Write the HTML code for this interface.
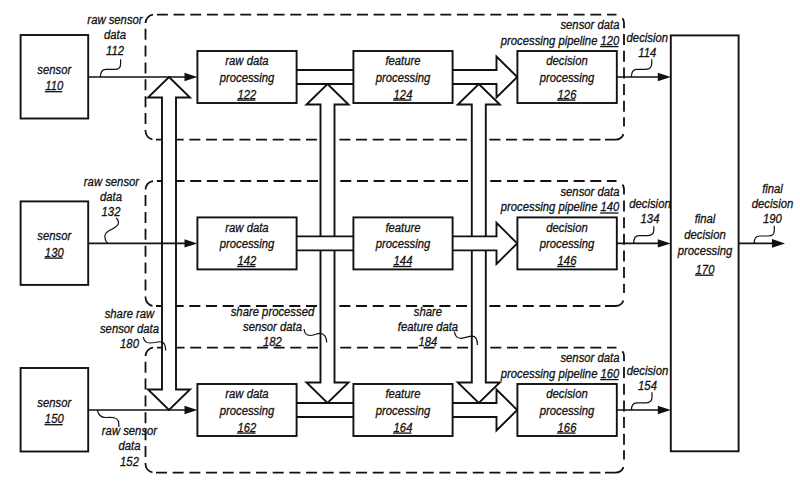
<!DOCTYPE html>
<html><head><meta charset="utf-8"><style>
html,body{margin:0;padding:0;background:#fff;}
svg{display:block;}
</style></head><body>
<svg width="800" height="486" viewBox="0 0 800 486">
<rect width="800" height="486" fill="#fff"/>
<path d="M156.90,14.6 L167.90,14.6 M173.57,14.6 L184.57,14.6 M190.24,14.6 L201.24,14.6 M206.91,14.6 L217.91,14.6 M223.58,14.6 L234.58,14.6 M240.25,14.6 L251.25,14.6 M256.92,14.6 L267.92,14.6 M273.59,14.6 L284.59,14.6 M290.26,14.6 L301.26,14.6 M306.93,14.6 L317.93,14.6 M323.60,14.6 L334.60,14.6 M340.27,14.6 L351.27,14.6 M356.94,14.6 L367.94,14.6 M373.61,14.6 L384.61,14.6 M390.28,14.6 L401.28,14.6 M406.95,14.6 L417.95,14.6 M423.62,14.6 L434.62,14.6 M440.29,14.6 L451.29,14.6 M456.96,14.6 L467.96,14.6 M473.63,14.6 L484.63,14.6 M490.30,14.6 L501.30,14.6 M506.97,14.6 L517.97,14.6 M523.64,14.6 L534.64,14.6 M540.31,14.6 L551.31,14.6 M556.98,14.6 L567.98,14.6 M573.65,14.6 L584.65,14.6 M590.32,14.6 L601.32,14.6 M606.99,14.6 L616.50,14.6 M156.00,139.6 L167.00,139.6 M172.67,139.6 L183.67,139.6 M189.34,139.6 L200.34,139.6 M206.01,139.6 L217.01,139.6 M222.68,139.6 L233.68,139.6 M239.35,139.6 L250.35,139.6 M256.02,139.6 L267.02,139.6 M272.69,139.6 L283.69,139.6 M289.36,139.6 L300.36,139.6 M306.03,139.6 L317.03,139.6 M322.70,139.6 L333.70,139.6 M339.37,139.6 L350.37,139.6 M356.04,139.6 L367.04,139.6 M372.71,139.6 L383.71,139.6 M389.38,139.6 L400.38,139.6 M406.05,139.6 L417.05,139.6 M422.72,139.6 L433.72,139.6 M439.39,139.6 L450.39,139.6 M456.06,139.6 L467.06,139.6 M472.73,139.6 L483.73,139.6 M489.40,139.6 L500.40,139.6 M506.07,139.6 L517.07,139.6 M522.74,139.6 L533.74,139.6 M539.41,139.6 L550.41,139.6 M556.08,139.6 L567.08,139.6 M572.75,139.6 L583.75,139.6 M589.42,139.6 L600.42,139.6 M145.5,28.70 L145.5,39.70 M145.5,45.56 L145.5,56.56 M145.5,62.42 L145.5,73.42 M145.5,79.28 L145.5,90.28 M145.5,96.14 L145.5,107.14 M145.5,113.00 L145.5,124.00 M624.0,34.10 L624.0,45.10 M624.0,50.75 L624.0,61.75 M624.0,67.40 L624.0,78.40 M624.0,84.05 L624.0,95.05 M624.0,100.70 L624.0,111.70 M624.0,117.35 L624.0,126.60 M145.5,23.1 A8.5,8.5 0 0 1 153.0,14.7 M145.5,130.1 L145.5,131.1 A8.5,8.5 0 0 0 152.5,139.4 M622.46,18.22 A8.5,8.5 0 0 1 624.0,23.1 L624.0,28.2 M605.0,139.6 L615.5,139.6 A8.5,8.5 0 0 0 623.5,134.1" fill="none" stroke="#111" stroke-width="1.8"/>
<path d="M156.90,181.0 L167.90,181.0 M173.57,181.0 L184.57,181.0 M190.24,181.0 L201.24,181.0 M206.91,181.0 L217.91,181.0 M223.58,181.0 L234.58,181.0 M240.25,181.0 L251.25,181.0 M256.92,181.0 L267.92,181.0 M273.59,181.0 L284.59,181.0 M290.26,181.0 L301.26,181.0 M306.93,181.0 L317.93,181.0 M323.60,181.0 L334.60,181.0 M340.27,181.0 L351.27,181.0 M356.94,181.0 L367.94,181.0 M373.61,181.0 L384.61,181.0 M390.28,181.0 L401.28,181.0 M406.95,181.0 L417.95,181.0 M423.62,181.0 L434.62,181.0 M440.29,181.0 L451.29,181.0 M456.96,181.0 L467.96,181.0 M473.63,181.0 L484.63,181.0 M490.30,181.0 L501.30,181.0 M506.97,181.0 L517.97,181.0 M523.64,181.0 L534.64,181.0 M540.31,181.0 L551.31,181.0 M556.98,181.0 L567.98,181.0 M573.65,181.0 L584.65,181.0 M590.32,181.0 L601.32,181.0 M606.99,181.0 L616.50,181.0 M156.00,306.0 L167.00,306.0 M172.67,306.0 L183.67,306.0 M189.34,306.0 L200.34,306.0 M206.01,306.0 L217.01,306.0 M222.68,306.0 L233.68,306.0 M239.35,306.0 L250.35,306.0 M256.02,306.0 L267.02,306.0 M272.69,306.0 L283.69,306.0 M289.36,306.0 L300.36,306.0 M306.03,306.0 L317.03,306.0 M322.70,306.0 L333.70,306.0 M339.37,306.0 L350.37,306.0 M356.04,306.0 L367.04,306.0 M372.71,306.0 L383.71,306.0 M389.38,306.0 L400.38,306.0 M406.05,306.0 L417.05,306.0 M422.72,306.0 L433.72,306.0 M439.39,306.0 L450.39,306.0 M456.06,306.0 L467.06,306.0 M472.73,306.0 L483.73,306.0 M489.40,306.0 L500.40,306.0 M506.07,306.0 L517.07,306.0 M522.74,306.0 L533.74,306.0 M539.41,306.0 L550.41,306.0 M556.08,306.0 L567.08,306.0 M572.75,306.0 L583.75,306.0 M589.42,306.0 L600.42,306.0 M145.5,195.10 L145.5,206.10 M145.5,211.96 L145.5,222.96 M145.5,228.82 L145.5,239.82 M145.5,245.68 L145.5,256.68 M145.5,262.54 L145.5,273.54 M145.5,279.40 L145.5,290.40 M624.0,200.50 L624.0,211.50 M624.0,217.15 L624.0,228.15 M624.0,233.80 L624.0,244.80 M624.0,250.45 L624.0,261.45 M624.0,267.10 L624.0,278.10 M624.0,283.75 L624.0,293.00 M145.5,189.5 A8.5,8.5 0 0 1 153.0,181.1 M145.5,296.5 L145.5,297.5 A8.5,8.5 0 0 0 152.5,305.8 M622.46,184.62 A8.5,8.5 0 0 1 624.0,189.5 L624.0,194.6 M605.0,306.0 L615.5,306.0 A8.5,8.5 0 0 0 623.5,300.5" fill="none" stroke="#111" stroke-width="1.8"/>
<path d="M156.90,347.6 L167.90,347.6 M173.57,347.6 L184.57,347.6 M190.24,347.6 L201.24,347.6 M206.91,347.6 L217.91,347.6 M223.58,347.6 L234.58,347.6 M240.25,347.6 L251.25,347.6 M256.92,347.6 L267.92,347.6 M273.59,347.6 L284.59,347.6 M290.26,347.6 L301.26,347.6 M306.93,347.6 L317.93,347.6 M323.60,347.6 L334.60,347.6 M340.27,347.6 L351.27,347.6 M356.94,347.6 L367.94,347.6 M373.61,347.6 L384.61,347.6 M390.28,347.6 L401.28,347.6 M406.95,347.6 L417.95,347.6 M423.62,347.6 L434.62,347.6 M440.29,347.6 L451.29,347.6 M456.96,347.6 L467.96,347.6 M473.63,347.6 L484.63,347.6 M490.30,347.6 L501.30,347.6 M506.97,347.6 L517.97,347.6 M523.64,347.6 L534.64,347.6 M540.31,347.6 L551.31,347.6 M556.98,347.6 L567.98,347.6 M573.65,347.6 L584.65,347.6 M590.32,347.6 L601.32,347.6 M606.99,347.6 L616.50,347.6 M156.00,472.6 L167.00,472.6 M172.67,472.6 L183.67,472.6 M189.34,472.6 L200.34,472.6 M206.01,472.6 L217.01,472.6 M222.68,472.6 L233.68,472.6 M239.35,472.6 L250.35,472.6 M256.02,472.6 L267.02,472.6 M272.69,472.6 L283.69,472.6 M289.36,472.6 L300.36,472.6 M306.03,472.6 L317.03,472.6 M322.70,472.6 L333.70,472.6 M339.37,472.6 L350.37,472.6 M356.04,472.6 L367.04,472.6 M372.71,472.6 L383.71,472.6 M389.38,472.6 L400.38,472.6 M406.05,472.6 L417.05,472.6 M422.72,472.6 L433.72,472.6 M439.39,472.6 L450.39,472.6 M456.06,472.6 L467.06,472.6 M472.73,472.6 L483.73,472.6 M489.40,472.6 L500.40,472.6 M506.07,472.6 L517.07,472.6 M522.74,472.6 L533.74,472.6 M539.41,472.6 L550.41,472.6 M556.08,472.6 L567.08,472.6 M572.75,472.6 L583.75,472.6 M589.42,472.6 L600.42,472.6 M145.5,361.70 L145.5,372.70 M145.5,378.56 L145.5,389.56 M145.5,395.42 L145.5,406.42 M145.5,412.28 L145.5,423.28 M145.5,429.14 L145.5,440.14 M145.5,446.00 L145.5,457.00 M624.0,367.10 L624.0,378.10 M624.0,383.75 L624.0,394.75 M624.0,400.40 L624.0,411.40 M624.0,417.05 L624.0,428.05 M624.0,433.70 L624.0,444.70 M624.0,450.35 L624.0,459.60 M145.5,356.1 A8.5,8.5 0 0 1 153.0,347.70000000000005 M145.5,463.1 L145.5,464.1 A8.5,8.5 0 0 0 152.5,472.40000000000003 M622.46,351.22 A8.5,8.5 0 0 1 624.0,356.1 L624.0,361.20000000000005 M605.0,472.6 L615.5,472.6 A8.5,8.5 0 0 0 623.5,467.1" fill="none" stroke="#111" stroke-width="1.8"/>
<path d="M169.0,77.0 L190.0,97.5 L176.0,97.5 L176.0,389.5 L190.0,389.5 L169.0,410.0 L148.0,389.5 L162.0,389.5 L162.0,97.5 L148.0,97.5 Z" fill="#fff" stroke="#111" stroke-width="1.9" stroke-linejoin="miter"/>
<path d="M327.5,84.0 L348.5,104.5 L334.5,104.5 L334.5,382.5 L348.5,382.5 L327.5,403.0 L306.5,382.5 L320.5,382.5 L320.5,104.5 L306.5,104.5 Z" fill="#fff" stroke="#111" stroke-width="1.9" stroke-linejoin="miter"/>
<path d="M478.8,84.0 L499.8,104.5 L485.8,104.5 L485.8,382.5 L499.8,382.5 L478.8,403.0 L457.8,382.5 L471.8,382.5 L471.8,104.5 L457.8,104.5 Z" fill="#fff" stroke="#111" stroke-width="1.9" stroke-linejoin="miter"/>
<rect x="20.6" y="35.0" width="67.6" height="83.5" fill="#fff" stroke="#111" stroke-width="1.9"/>
<line x1="88" y1="77.0" x2="186" y2="77.0" stroke="#111" stroke-width="1.6"/>
<path d="M184.5,72.8 L197.3,77.0 L184.5,81.2 Z" fill="#111"/>
<rect x="296.6" y="70.0" width="56.8" height="14" fill="#fff" stroke="none"/>
<line x1="296.6" y1="70.0" x2="353.4" y2="70.0" stroke="#111" stroke-width="1.9"/>
<line x1="296.6" y1="84.0" x2="353.4" y2="84.0" stroke="#111" stroke-width="1.9"/>
<path d="M452.6,70.0 L496.5,70.0 L496.5,56.5 L517.2,77.0 L496.5,97.5 L496.5,84.0 L452.6,84.0 Z" fill="#fff" stroke="none"/>
<path d="M452.6,70.0 L496.5,70.0 L496.5,56.5 L517.2,77.0 L496.5,97.5 L496.5,84.0 L452.6,84.0" fill="none" stroke="#111" stroke-width="1.9" stroke-linejoin="miter"/>
<rect x="197.4" y="51.0" width="99.20000000000002" height="52" fill="#fff" stroke="#111" stroke-width="1.9"/>
<rect x="353.4" y="51.0" width="99.20000000000005" height="52" fill="#fff" stroke="#111" stroke-width="1.9"/>
<rect x="517.4" y="51.0" width="99.39999999999998" height="52" fill="#fff" stroke="#111" stroke-width="1.9"/>
<line x1="616.8" y1="77.0" x2="660" y2="77.0" stroke="#111" stroke-width="1.6"/>
<path d="M657.8,72.8 L670.8,77.0 L657.8,81.2 Z" fill="#111"/>
<rect x="20.6" y="201.4" width="67.6" height="83.5" fill="#fff" stroke="#111" stroke-width="1.9"/>
<line x1="88" y1="243.4" x2="186" y2="243.4" stroke="#111" stroke-width="1.6"/>
<path d="M184.5,239.20000000000002 L197.3,243.4 L184.5,247.6 Z" fill="#111"/>
<rect x="296.6" y="236.4" width="56.8" height="14" fill="#fff" stroke="none"/>
<line x1="296.6" y1="236.4" x2="353.4" y2="236.4" stroke="#111" stroke-width="1.9"/>
<line x1="296.6" y1="250.4" x2="353.4" y2="250.4" stroke="#111" stroke-width="1.9"/>
<path d="M452.6,236.4 L496.5,236.4 L496.5,222.9 L517.2,243.4 L496.5,263.9 L496.5,250.4 L452.6,250.4 Z" fill="#fff" stroke="none"/>
<path d="M452.6,236.4 L496.5,236.4 L496.5,222.9 L517.2,243.4 L496.5,263.9 L496.5,250.4 L452.6,250.4" fill="none" stroke="#111" stroke-width="1.9" stroke-linejoin="miter"/>
<rect x="197.4" y="217.4" width="99.20000000000002" height="52" fill="#fff" stroke="#111" stroke-width="1.9"/>
<rect x="353.4" y="217.4" width="99.20000000000005" height="52" fill="#fff" stroke="#111" stroke-width="1.9"/>
<rect x="517.4" y="217.4" width="99.39999999999998" height="52" fill="#fff" stroke="#111" stroke-width="1.9"/>
<line x1="616.8" y1="243.4" x2="660" y2="243.4" stroke="#111" stroke-width="1.6"/>
<path d="M657.8,239.20000000000002 L670.8,243.4 L657.8,247.6 Z" fill="#111"/>
<rect x="20.6" y="368.0" width="67.6" height="83.5" fill="#fff" stroke="#111" stroke-width="1.9"/>
<line x1="88" y1="410.0" x2="186" y2="410.0" stroke="#111" stroke-width="1.6"/>
<path d="M184.5,405.8 L197.3,410.0 L184.5,414.2 Z" fill="#111"/>
<rect x="296.6" y="403.0" width="56.8" height="14" fill="#fff" stroke="none"/>
<line x1="296.6" y1="403.0" x2="353.4" y2="403.0" stroke="#111" stroke-width="1.9"/>
<line x1="296.6" y1="417.0" x2="353.4" y2="417.0" stroke="#111" stroke-width="1.9"/>
<path d="M452.6,403.0 L496.5,403.0 L496.5,389.5 L517.2,410.0 L496.5,430.5 L496.5,417.0 L452.6,417.0 Z" fill="#fff" stroke="none"/>
<path d="M452.6,403.0 L496.5,403.0 L496.5,389.5 L517.2,410.0 L496.5,430.5 L496.5,417.0 L452.6,417.0" fill="none" stroke="#111" stroke-width="1.9" stroke-linejoin="miter"/>
<rect x="197.4" y="384.0" width="99.20000000000002" height="52" fill="#fff" stroke="#111" stroke-width="1.9"/>
<rect x="353.4" y="384.0" width="99.20000000000005" height="52" fill="#fff" stroke="#111" stroke-width="1.9"/>
<rect x="517.4" y="384.0" width="99.39999999999998" height="52" fill="#fff" stroke="#111" stroke-width="1.9"/>
<line x1="616.8" y1="410.0" x2="660" y2="410.0" stroke="#111" stroke-width="1.6"/>
<path d="M657.8,405.8 L670.8,410.0 L657.8,414.2 Z" fill="#111"/>
<rect x="670.8" y="35.4" width="67.8" height="415.9" fill="#fff" stroke="#111" stroke-width="1.9"/>
<line x1="738.6" y1="243.4" x2="774" y2="243.4" stroke="#111" stroke-width="1.6"/>
<path d="M772,239.0 L785,243.4 L772,247.8 Z" fill="#111"/>
<g font-family="Liberation Sans, sans-serif" font-style="italic" font-size="13.5" fill="#111" stroke="#111" stroke-width="0.3">
<text x="44.62" y="73.80" transform="scale(0.837,1)">sensor</text>
<text x="54.11" y="90.20" transform="scale(0.837,1)">110</text>
<line x1="44.79" y1="91.70" x2="62.31" y2="91.70" stroke="#111" stroke-width="1.3"/>
<text x="269.21" y="65.40" transform="scale(0.837,1)">raw data</text>
<text x="262.46" y="81.80" transform="scale(0.837,1)">processing</text>
<text x="283.84" y="98.60" transform="scale(0.837,1)">122</text>
<line x1="237.07" y1="100.10" x2="255.43" y2="100.10" stroke="#111" stroke-width="1.3"/>
<text x="460.47" y="65.40" transform="scale(0.837,1)">feature</text>
<text x="448.84" y="81.80" transform="scale(0.837,1)">processing</text>
<text x="470.22" y="98.60" transform="scale(0.837,1)">124</text>
<line x1="393.07" y1="100.10" x2="411.43" y2="100.10" stroke="#111" stroke-width="1.3"/>
<text x="652.66" y="65.40" transform="scale(0.837,1)">decision</text>
<text x="644.78" y="81.80" transform="scale(0.837,1)">processing</text>
<text x="666.16" y="98.60" transform="scale(0.837,1)">126</text>
<line x1="557.07" y1="100.10" x2="575.43" y2="100.10" stroke="#111" stroke-width="1.3"/>
<text x="669.60" y="29.20" transform="scale(0.837,1)">sensor data</text>
<text x="598.30" y="45.10" transform="scale(0.837,1)">processing pipeline 120</text>
<line x1="600.15" y1="46.60" x2="618.50" y2="46.60" stroke="#111" stroke-width="1.3"/>
<text x="748.59" y="42.00" transform="scale(0.837,1)">decision</text>
<text x="762.60" y="56.70" transform="scale(0.837,1)">114</text>
<text x="44.62" y="240.20" transform="scale(0.837,1)">sensor</text>
<text x="53.61" y="256.60" transform="scale(0.837,1)">130</text>
<line x1="44.37" y1="258.10" x2="62.73" y2="258.10" stroke="#111" stroke-width="1.3"/>
<text x="269.21" y="231.80" transform="scale(0.837,1)">raw data</text>
<text x="262.46" y="248.20" transform="scale(0.837,1)">processing</text>
<text x="283.84" y="265.00" transform="scale(0.837,1)">142</text>
<line x1="237.07" y1="266.50" x2="255.43" y2="266.50" stroke="#111" stroke-width="1.3"/>
<text x="460.47" y="231.80" transform="scale(0.837,1)">feature</text>
<text x="448.84" y="248.20" transform="scale(0.837,1)">processing</text>
<text x="470.22" y="265.00" transform="scale(0.837,1)">144</text>
<line x1="393.07" y1="266.50" x2="411.43" y2="266.50" stroke="#111" stroke-width="1.3"/>
<text x="652.66" y="231.80" transform="scale(0.837,1)">decision</text>
<text x="644.78" y="248.20" transform="scale(0.837,1)">processing</text>
<text x="666.16" y="265.00" transform="scale(0.837,1)">146</text>
<line x1="557.07" y1="266.50" x2="575.43" y2="266.50" stroke="#111" stroke-width="1.3"/>
<text x="669.60" y="195.60" transform="scale(0.837,1)">sensor data</text>
<text x="598.30" y="211.50" transform="scale(0.837,1)">processing pipeline 140</text>
<line x1="600.15" y1="213.00" x2="618.50" y2="213.00" stroke="#111" stroke-width="1.3"/>
<text x="751.82" y="208.40" transform="scale(0.837,1)">decision</text>
<text x="765.32" y="223.10" transform="scale(0.837,1)">134</text>
<text x="44.62" y="406.80" transform="scale(0.837,1)">sensor</text>
<text x="53.61" y="423.20" transform="scale(0.837,1)">150</text>
<line x1="44.37" y1="424.70" x2="62.73" y2="424.70" stroke="#111" stroke-width="1.3"/>
<text x="269.21" y="398.40" transform="scale(0.837,1)">raw data</text>
<text x="262.46" y="414.80" transform="scale(0.837,1)">processing</text>
<text x="283.84" y="431.60" transform="scale(0.837,1)">162</text>
<line x1="237.07" y1="433.10" x2="255.43" y2="433.10" stroke="#111" stroke-width="1.3"/>
<text x="460.47" y="398.40" transform="scale(0.837,1)">feature</text>
<text x="448.84" y="414.80" transform="scale(0.837,1)">processing</text>
<text x="470.22" y="431.60" transform="scale(0.837,1)">164</text>
<line x1="393.07" y1="433.10" x2="411.43" y2="433.10" stroke="#111" stroke-width="1.3"/>
<text x="652.66" y="398.40" transform="scale(0.837,1)">decision</text>
<text x="644.78" y="414.80" transform="scale(0.837,1)">processing</text>
<text x="666.16" y="431.60" transform="scale(0.837,1)">166</text>
<line x1="557.07" y1="433.10" x2="575.43" y2="433.10" stroke="#111" stroke-width="1.3"/>
<text x="669.60" y="362.20" transform="scale(0.837,1)">sensor data</text>
<text x="598.30" y="378.10" transform="scale(0.837,1)">processing pipeline 160</text>
<line x1="600.15" y1="379.60" x2="618.50" y2="379.60" stroke="#111" stroke-width="1.3"/>
<text x="748.83" y="375.00" transform="scale(0.837,1)">decision</text>
<text x="762.34" y="389.70" transform="scale(0.837,1)">154</text>
</g>
<g font-family="Liberation Sans, sans-serif" font-style="italic" font-size="13.5" fill="#111" stroke="#111" stroke-width="0.3">
<text x="104.39" y="24.10" transform="scale(0.837,1)">raw sensor</text>
<text x="124.26" y="39.40" transform="scale(0.837,1)">data</text>
<text x="126.64" y="54.70" transform="scale(0.837,1)">112</text>
<text x="100.20" y="185.80" transform="scale(0.837,1)">raw sensor</text>
<text x="119.48" y="200.80" transform="scale(0.837,1)">data</text>
<text x="121.36" y="215.60" transform="scale(0.837,1)">132</text>
<text x="121.71" y="435.30" transform="scale(0.837,1)">raw sensor</text>
<text x="141.58" y="450.20" transform="scale(0.837,1)">data</text>
<text x="143.46" y="465.60" transform="scale(0.837,1)">152</text>
<text x="829.91" y="222.90" transform="scale(0.837,1)">final</text>
<text x="817.53" y="239.10" transform="scale(0.837,1)">decision</text>
<text x="809.65" y="255.30" transform="scale(0.837,1)">processing</text>
<text x="831.03" y="273.70" transform="scale(0.837,1)">170</text>
<line x1="695.07" y1="275.20" x2="713.43" y2="275.20" stroke="#111" stroke-width="1.3"/>
<text x="910.56" y="193.40" transform="scale(0.837,1)">final</text>
<text x="898.18" y="208.40" transform="scale(0.837,1)">decision</text>
<text x="911.68" y="223.40" transform="scale(0.837,1)">190</text>
<text x="125.08" y="318.30" transform="scale(0.837,1)">share raw</text>
<text x="119.45" y="333.30" transform="scale(0.837,1)">sensor data</text>
<text x="143.46" y="348.30" transform="scale(0.837,1)">180</text>
<text x="275.67" y="315.90" transform="scale(0.837,1)">share processed</text>
<text x="290.30" y="330.90" transform="scale(0.837,1)">sensor data</text>
<text x="314.31" y="345.90" transform="scale(0.837,1)">182</text>
<text x="494.47" y="315.90" transform="scale(0.837,1)">share</text>
<text x="475.33" y="330.90" transform="scale(0.837,1)">feature data</text>
<text x="500.09" y="345.90" transform="scale(0.837,1)">184</text>
</g>
<path d="M100.4,77.0 C100.4,71.9 102.2,69.4 105.9,69.4 L114.6,69.4 C118.8,69.4 120.6,67.4 120.6,63.900000000000006 L120.6,59.3" fill="none" stroke="#111" stroke-width="1.2"/>
<path d="M631.4,77.0 C631.4,71.8 633.1999999999999,69.3 636.9,69.3 L645.7,69.3 C649.9000000000001,69.3 651.7,67.3 651.7,63.8 L651.7,59.2" fill="none" stroke="#111" stroke-width="1.2"/>
<path d="M633.6,243.4 C633.6,238.1 635.4,235.6 639.1,235.6 L647.8,235.6 C652.0,235.6 653.8,233.6 653.8,230.1 L653.8,226.2" fill="none" stroke="#111" stroke-width="1.2"/>
<path d="M631.4,410.0 C631.4,405.3 633.1999999999999,402.8 636.9,402.8 L646.0,402.8 C650.2,402.8 652.0,400.8 652.0,397.3 L652.0,392.3" fill="none" stroke="#111" stroke-width="1.2"/>
<path d="M754.1,243.4 C754.1,238.5 755.9,236.0 759.6,236.0 L768.3,236.0 C772.5,236.0 774.3,234.0 774.3,230.5 L774.3,225.7" fill="none" stroke="#111" stroke-width="1.2"/>
<path d="M107.6,243.4 C103.5,238.5 104,233.5 108.5,231 C113,228.5 118.5,227 118.5,222.5 C118.5,220.3 117.5,218.8 116,218" fill="none" stroke="#111" stroke-width="1.2"/>
<path d="M97.2,410 C98.5,415 100.5,417.5 105,417.5 L110,417.3 C116,417.2 118.8,419.5 118.8,423.5 L118.8,427" fill="none" stroke="#111" stroke-width="1.2"/>
<path d="M143.3,337 C144,341.5 146.5,343 150,343 L155,342.5 C159,341.5 161,341.2 163,342.5 C165,344 165.6,347 165.6,350.5" fill="none" stroke="#111" stroke-width="1.2"/>
<path d="M304,329 C304.5,333.5 306.5,335.5 310,335.5 C314,335.5 317,333.3 320,333.3 C324,333.3 326.7,337 326.7,342.5" fill="none" stroke="#111" stroke-width="1.2"/>
<path d="M454.4,331.5 C455,336 457,338.3 461,338.3 C465,338.3 468.5,336.2 472,336.2 C475.5,336.2 477.4,340 477.4,345" fill="none" stroke="#111" stroke-width="1.2"/>
</svg>
</body></html>
